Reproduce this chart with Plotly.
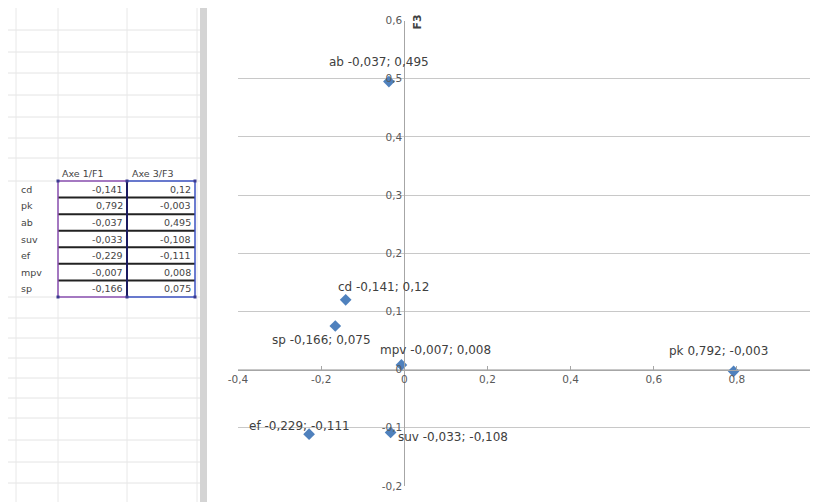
import plotly.graph_objects as go

# valeurs lues dans le tableau Excel
noms = ["cd", "pk", "ab", "suv", "ef", "mpv", "sp"]
f1 = [-0.141, 0.792, -0.037, -0.033, -0.229, -0.007, -0.166]
f3 = [0.12, -0.003, 0.495, -0.108, -0.111, 0.008, 0.075]
entetes = ["Axe 1/F1", "Axe 3/F3"]

xticks = [-0.4, -0.2, 0, 0.2, 0.4, 0.6, 0.8, 1.0]
xticklabels = ["-0,4", "-0,2", "0", "0,2", "0,4", "0,6", "0,8", "1"]
yticks = [-0.2, -0.1, 0, 0.1, 0.2, 0.3, 0.4, 0.5, 0.6]
yticklabels = ["-0,2", "-0,1", "0", "0,1", "0,2", "0,3", "0,4", "0,5", "0,6"]

# décalage des étiquettes (pixels) : dx, dy
decalages = [(38, 13), (-15, 20), (-10, 20), (62, -5), (-10, 8), (34, 15), (-14, -14)]

DEC = 8  # marge du <body> de la page
W, H = 818 - DEC, 502 - DEC


def px(x):
    return (x - DEC) / W


def py(y):
    return 1 - (y - DEC) / H


def virg(v):
    return str(v).replace(".", ",")


xr = [-0.4, 0.995]
yr = [-0.2, 0.6]
xdom = [px(238), px(818)]
ydom = [py(486), py(20.5)]

fig = go.Figure()
fig.add_trace(go.Scatter(
    x=f1, y=f3, mode="markers",
    marker=dict(symbol="diamond", size=9, color="#4F81BD"),
    hoverinfo="skip", showlegend=False,
))

annotations = []
for n, a, b, (dx, dy) in zip(noms, f1, f3, decalages):
    annotations.append(dict(
        x=a, y=b, xref="x", yref="y", text=f"{n} {virg(a)}; {virg(b)}",
        showarrow=False, xshift=dx, yshift=dy,
        font=dict(family="DejaVu Sans", size=12, color="#404040"),
    ))

# titres d'axes
annotations.append(dict(x=px(417), y=py(13), xref="paper", yref="paper", text="<b>F3</b>",
                        textangle=-90, showarrow=False,
                        font=dict(family="DejaVu Sans", size=11, color="#404040")))
annotations.append(dict(x=px(808), y=py(352), xref="paper", yref="paper", text="<b>F1</b>",
                        xanchor="left", showarrow=False,
                        font=dict(family="DejaVu Sans", size=11, color="#404040")))

shapes = []
# feuille Excel : quadrillage
lignes_feuille = [30, 52, 73, 95, 117, 138, 158, 181, 297, 318, 338, 358, 378, 398, 418, 440, 462, 483]
for yy in lignes_feuille:
    shapes.append(dict(type="line", xref="paper", yref="paper", x0=px(8), x1=px(200),
                       y0=py(yy), y1=py(yy), line=dict(color="#e4e4e4", width=1)))
for xx in [16, 58, 127, 197]:
    shapes.append(dict(type="line", xref="paper", yref="paper", x0=px(xx), x1=px(xx),
                       y0=0, y1=1, line=dict(color="#e8e8e8", width=1)))
shapes.append(dict(type="rect", xref="paper", yref="paper", x0=px(200), x1=px(207),
                   y0=0, y1=1, fillcolor="#d4d4d4", line=dict(width=0), layer="below"))

# tableau
haut, bas = 181, 297
pas = (bas - haut) / len(noms)
for i in range(1, len(noms)):
    yy = haut + i * pas
    shapes.append(dict(type="line", xref="paper", yref="paper", x0=px(58), x1=px(195),
                       y0=py(yy), y1=py(yy), line=dict(color="#222222", width=2)))
shapes.append(dict(type="line", xref="paper", yref="paper", x0=px(127), x1=px(127),
                   y0=py(haut), y1=py(bas), line=dict(color="#1a1a60", width=2)))
for x0, x1, c in [(58, 127, "#8a4fb0"), (127, 195, "#3a50c0")]:
    for yy in (haut, bas):
        shapes.append(dict(type="line", xref="paper", yref="paper", x0=px(x0), x1=px(x1),
                           y0=py(yy), y1=py(yy), line=dict(color=c, width=1.5)))
shapes.append(dict(type="line", xref="paper", yref="paper", x0=px(58), x1=px(58),
                   y0=py(haut), y1=py(bas), line=dict(color="#8a4fb0", width=1.5)))
shapes.append(dict(type="line", xref="paper", yref="paper", x0=px(195), x1=px(195),
                   y0=py(haut), y1=py(bas), line=dict(color="#3a50c0", width=1.5)))
# poignées de sélection
for hx, hy in [(58, haut), (127, haut), (195, haut), (58, bas), (127, bas), (195, bas)]:
    shapes.append(dict(type="rect", xref="paper", yref="paper", x0=px(hx - 1.5), x1=px(hx + 1.5),
                       y0=py(hy + 1.5), y1=py(hy - 1.5), fillcolor="#3a3a90", line=dict(width=0)))

police_feuille = dict(family="DejaVu Sans", size=9.5, color="#444444")
for j, t in enumerate(entetes):
    annotations.append(dict(x=px([60, 130][j]), y=py(166), xref="paper", yref="paper",
                            text=t, xanchor="left", showarrow=False, font=police_feuille))
for i, (n, a, b) in enumerate(zip(noms, f1, f3)):
    yc = py(haut + (i + 0.5) * pas)
    annotations.append(dict(x=px(19), y=yc, xref="paper", yref="paper", text=n,
                            xanchor="left", showarrow=False, font=police_feuille))
    annotations.append(dict(x=px(125), y=yc, xref="paper", yref="paper", text=virg(a),
                            xanchor="right", showarrow=False, font=police_feuille))
    annotations.append(dict(x=px(193), y=yc, xref="paper", yref="paper", text=virg(b),
                            xanchor="right", showarrow=False, font=police_feuille))

pos_x = ydom[0] + (0 - yr[0]) / (yr[1] - yr[0]) * (ydom[1] - ydom[0])
pos_y = xdom[0] + (0 - xr[0]) / (xr[1] - xr[0]) * (xdom[1] - xdom[0])

fig.update_layout(
    width=W, height=H,
    margin=dict(l=0, r=0, t=0, b=0, autoexpand=False),
    paper_bgcolor="white", plot_bgcolor="white",
    xaxis=dict(domain=xdom, range=xr, anchor="free", position=pos_x, automargin=False,
               tickvals=xticks, ticktext=xticklabels, showgrid=False, zeroline=False,
               showline=True, linecolor="#a6a6a6", linewidth=1,
               ticks="inside", ticklen=4, tickcolor="#a6a6a6",
               tickfont=dict(family="DejaVu Sans", size=10.5, color="#595959")),
    yaxis=dict(domain=ydom, range=yr, anchor="free", position=pos_y, automargin=False,
               tickvals=yticks, ticktext=yticklabels, showgrid=True, gridcolor="#c8c8c8",
               zeroline=False, showline=True, linecolor="#a6a6a6", linewidth=1,
               ticks="", tickfont=dict(family="DejaVu Sans", size=10.5, color="#595959")),
    shapes=shapes,
    annotations=annotations,
)

fig.write_html("out.html")
